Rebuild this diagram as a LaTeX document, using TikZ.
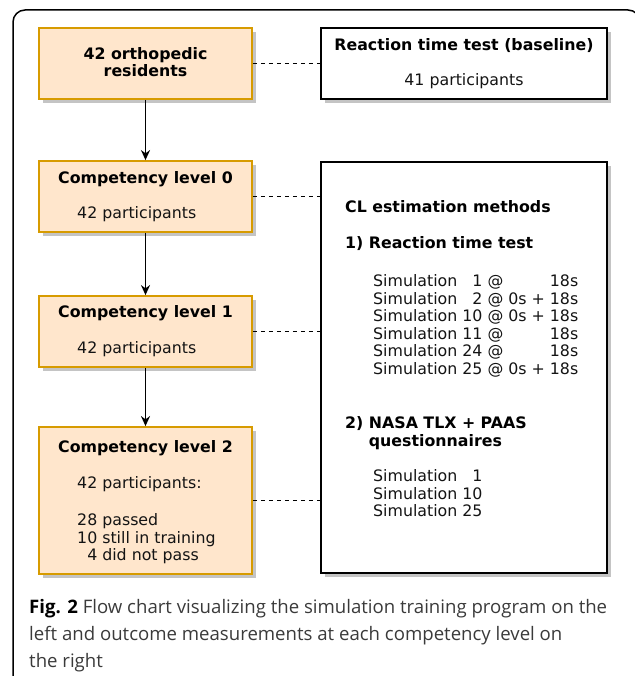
\documentclass[tikz,border=0pt]{standalone}
\usepackage{fontspec}
\setmainfont{DejaVu Sans}
\newfontfamily\capfont{Open Sans}
\usepackage{xcolor}
\usepackage{tikz}
\usetikzlibrary{arrows.meta,shadows}
\definecolor{boxfill}{HTML}{FFE6CC}
\definecolor{boxline}{HTML}{D79B00}
\definecolor{shade}{HTML}{C4C4C4}
\definecolor{ink}{HTML}{141414}
\definecolor{captext}{HTML}{3A3A3A}

\begin{document}
\begin{tikzpicture}[x=1pt, y=-1pt, line join=miter,
  font=\fontsize{15.8}{17.6}\selectfont,
  stage/.style={draw=boxline, fill=boxfill, line width=1.8pt, minimum width=213pt, inner sep=0pt,
    drop shadow={shadow xshift=4pt, shadow yshift=-4pt, fill=shade, opacity=1}},
  measure/.style={draw=black, fill=white, line width=2pt, minimum width=286pt, inner sep=0pt,
    drop shadow={shadow xshift=4pt, shadow yshift=-4pt, fill=shade, opacity=1}},
  title/.style={font=\fontsize{15.8}{17.6}\selectfont\bfseries, inner sep=0pt, anchor=mid},
  body/.style={inner sep=0pt, anchor=mid west, text=ink},
  link/.style={dash pattern=on 4.5pt off 3.5pt, line width=1.6pt},
  flow/.style={-{Stealth[length=10pt,width=9pt]}, line width=1.9pt}]
  \useasboundingbox (0,0) rectangle (634,676);
  % outer frame, cut at the right and bottom
  \draw[line width=1.5pt, rounded corners=12pt] (13,690) -- (13,10) -- (640,10) -- (640,690);

  % training program on the left
  \node[stage, minimum height=71pt] (res) at (145.5,63.5) {};
  \node[stage, minimum height=71pt] (cl0) at (145.5,196.5) {};
  \node[stage, minimum height=71pt] (cl1) at (145.5,331.5) {};
  \node[stage, minimum height=147pt] (cl2) at (145.5,500.5) {};

  \node[title] (resA) at (145.5,57) {42 orthopedic};
  \node[title] (resB) at (145.5,74) {residents};
  \node[title] (cl0T) at (145.5,181) {Competency level 0};
  \node[body] (cl0B) at (77,216) {42 participants};
  \node[title] (cl1T) at (145.5,315) {Competency level 1};
  \node[body] (cl1B) at (77,351) {42 participants};
  \node[title] (cl2T) at (145.5,450) {Competency level 2};
  \node[body] (cl2B) at (77,486) {42 participants:};
  \node[inner sep=0pt, anchor=base west, text=ink] (cl2R) at (77,525.5)
    {\begin{tabular}[t]{@{}r@{ }l@{}}28 & passed\\10 & still in training\\4 & did not pass\end{tabular}};

  % measurements on the right
  \node[measure, minimum height=71pt] (base) at (464,63.5) {};
  \node[measure, minimum height=411pt] (meth) at (464,367.5) {};

  \node[title] (baseT) at (464,48) {Reaction time test (baseline)};
  \node[body, anchor=mid] (baseB) at (464,83) {41 participants};
  \node[title, anchor=mid west] (methT) at (345,210) {CL estimation methods};
  \node[title, anchor=mid west] (rtT) at (345,246) {1) Reaction time test};
  \node[inner sep=0pt, anchor=base west, text=ink] (rtS) at (373,286.5)
    {\begin{tabular}[t]{@{}l@{ }r@{ }l@{ }r@{}}
      Simulation & 1 & @ & 18s\\
      Simulation & 2 & @ & 0s + 18s\\
      Simulation & 10 & @ & 0s + 18s\\
      Simulation & 11 & @ & 18s\\
      Simulation & 24 & @ & 18s\\
      Simulation & 25 & @ & 0s + 18s
    \end{tabular}};
  \node[inner sep=0pt, anchor=base west, font=\fontsize{15.8}{17.6}\selectfont\bfseries] (qT) at (345,428.5)
    {\begin{tabular}[t]{@{}l@{ }l@{}}2) & NASA TLX + PAAS\\ & questionnaires\end{tabular}};
  \node[inner sep=0pt, anchor=base west, text=ink] (qS) at (373,481.5)
    {\begin{tabular}[t]{@{}l@{ }r@{}}Simulation & 1\\Simulation & 10\\Simulation & 25\end{tabular}};

  % connectors
  \draw[flow] (res.south) -- (cl0.north);
  \draw[flow] (cl0.south) -- (cl1.north);
  \draw[flow] (cl1.south) -- (cl2.north);
  \draw[link] (res.east) -- (res.east -| base.west);
  \draw[link] (cl0.east) -- (cl0.east -| meth.west);
  \draw[link] (cl1.east) -- (cl1.east -| meth.west);
  \draw[link] (cl2.east) -- (cl2.east -| meth.west);

  % caption
  \node[inner sep=0pt, anchor=base west, text=captext, font=\capfont\fontsize{18.6}{27}\selectfont] (cap) at (29,613)
    {\begin{tabular}[t]{@{}l@{}}\textbf{\color{black}Fig. 2} Flow chart visualizing the simulation training program on the\\
      left and outcome measurements at each competency level on\\
      the right\end{tabular}};
\end{tikzpicture}
\end{document}
